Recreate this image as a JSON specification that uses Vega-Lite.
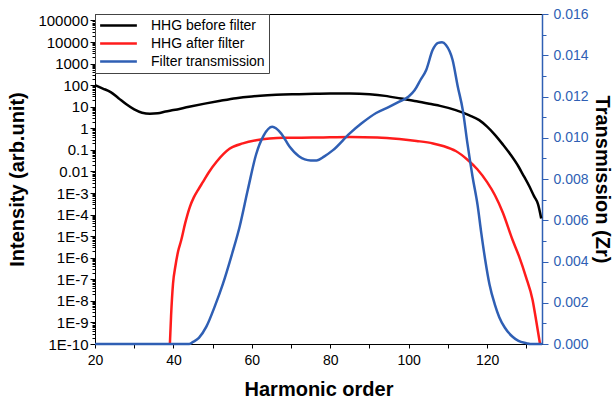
{
  "$schema": "https://vega.github.io/schema/vega-lite/v6.json",
  "width": 447,
  "height": 330,
  "autosize": "none",
  "padding": {"left": 95, "top": 14, "right": 71, "bottom": 62},
  "background": "white",
  "config": {
    "font": "Liberation Sans",
    "view": {"stroke": "black", "strokeWidth": 1},
    "axis": {"grid": false, "labelFont": "Liberation Sans", "titleFont": "Liberation Sans", "labelOverlap": false, "labelBound": false, "labelFlush": false},
    "legend": {
      "orient": "top-left", "offset": 0, "padding": 4,
      "strokeColor": "#444", "fillColor": "white",
      "labelFont": "Liberation Sans", "labelFontSize": 14, "labelColor": "black",
      "symbolType": "M-3,0H3", "symbolSize": 150, "symbolStrokeWidth": 2.5,
      "symbolOffset": 12, "labelOffset": 25, "rowPadding": 3
    }
  },
  "data": {"values": [
    {"series": "HHG before filter", "order": 20, "intensity": 100},
    {"series": "HHG before filter", "order": 22, "intensity": 70},
    {"series": "HHG before filter", "order": 24, "intensity": 48},
    {"series": "HHG before filter", "order": 26, "intensity": 25},
    {"series": "HHG before filter", "order": 28, "intensity": 13},
    {"series": "HHG before filter", "order": 30, "intensity": 7.5},
    {"series": "HHG before filter", "order": 32, "intensity": 5.3},
    {"series": "HHG before filter", "order": 34, "intensity": 4.8},
    {"series": "HHG before filter", "order": 36, "intensity": 5},
    {"series": "HHG before filter", "order": 38, "intensity": 6},
    {"series": "HHG before filter", "order": 40, "intensity": 7},
    {"series": "HHG before filter", "order": 44, "intensity": 10},
    {"series": "HHG before filter", "order": 48, "intensity": 14},
    {"series": "HHG before filter", "order": 52, "intensity": 19},
    {"series": "HHG before filter", "order": 56, "intensity": 25},
    {"series": "HHG before filter", "order": 60, "intensity": 30},
    {"series": "HHG before filter", "order": 64, "intensity": 34},
    {"series": "HHG before filter", "order": 68, "intensity": 37},
    {"series": "HHG before filter", "order": 72, "intensity": 38},
    {"series": "HHG before filter", "order": 76, "intensity": 40},
    {"series": "HHG before filter", "order": 80, "intensity": 41},
    {"series": "HHG before filter", "order": 85, "intensity": 41},
    {"series": "HHG before filter", "order": 90, "intensity": 38},
    {"series": "HHG before filter", "order": 94, "intensity": 32},
    {"series": "HHG before filter", "order": 98, "intensity": 24},
    {"series": "HHG before filter", "order": 102, "intensity": 18},
    {"series": "HHG before filter", "order": 106, "intensity": 13},
    {"series": "HHG before filter", "order": 108, "intensity": 11},
    {"series": "HHG before filter", "order": 112, "intensity": 7},
    {"series": "HHG before filter", "order": 115.5, "intensity": 4},
    {"series": "HHG before filter", "order": 118, "intensity": 2.4},
    {"series": "HHG before filter", "order": 120, "intensity": 1.2},
    {"series": "HHG before filter", "order": 122, "intensity": 0.5},
    {"series": "HHG before filter", "order": 124, "intensity": 0.18},
    {"series": "HHG before filter", "order": 126, "intensity": 0.06},
    {"series": "HHG before filter", "order": 128, "intensity": 0.017},
    {"series": "HHG before filter", "order": 129, "intensity": 0.008},
    {"series": "HHG before filter", "order": 130.8, "intensity": 0.002},
    {"series": "HHG before filter", "order": 132, "intensity": 0.0007},
    {"series": "HHG before filter", "order": 133, "intensity": 0.0003},
    {"series": "HHG before filter", "order": 133.8, "intensity": 0.000066},
    {"series": "HHG after filter", "order": 39.1, "intensity": 1e-10},
    {"series": "HHG after filter", "order": 39.4, "intensity": 2e-9},
    {"series": "HHG after filter", "order": 39.9, "intensity": 6.3e-8},
    {"series": "HHG after filter", "order": 40.5, "intensity": 4e-7},
    {"series": "HHG after filter", "order": 41.2, "intensity": 2e-6},
    {"series": "HHG after filter", "order": 42, "intensity": 6.6e-6},
    {"series": "HHG after filter", "order": 43, "intensity": 4e-5},
    {"series": "HHG after filter", "order": 44.2, "intensity": 2.3e-4},
    {"series": "HHG after filter", "order": 45.2, "intensity": 6.3e-4},
    {"series": "HHG after filter", "order": 46.3, "intensity": 1.4e-3},
    {"series": "HHG after filter", "order": 47.5, "intensity": 3.2e-3},
    {"series": "HHG after filter", "order": 49, "intensity": 0.009},
    {"series": "HHG after filter", "order": 51, "intensity": 0.028},
    {"series": "HHG after filter", "order": 54.3, "intensity": 0.112},
    {"series": "HHG after filter", "order": 57.7, "intensity": 0.2},
    {"series": "HHG after filter", "order": 61.1, "intensity": 0.28},
    {"series": "HHG after filter", "order": 64.5, "intensity": 0.34},
    {"series": "HHG after filter", "order": 68, "intensity": 0.37},
    {"series": "HHG after filter", "order": 72, "intensity": 0.37},
    {"series": "HHG after filter", "order": 77, "intensity": 0.38},
    {"series": "HHG after filter", "order": 85, "intensity": 0.40},
    {"series": "HHG after filter", "order": 92, "intensity": 0.38},
    {"series": "HHG after filter", "order": 97.6, "intensity": 0.32},
    {"series": "HHG after filter", "order": 102, "intensity": 0.26},
    {"series": "HHG after filter", "order": 106.2, "intensity": 0.2},
    {"series": "HHG after filter", "order": 109, "intensity": 0.148},
    {"series": "HHG after filter", "order": 112, "intensity": 0.089},
    {"series": "HHG after filter", "order": 115, "intensity": 0.035},
    {"series": "HHG after filter", "order": 117.5, "intensity": 0.0126},
    {"series": "HHG after filter", "order": 120, "intensity": 0.0032},
    {"series": "HHG after filter", "order": 122, "intensity": 7.9e-4},
    {"series": "HHG after filter", "order": 124, "intensity": 1.26e-4},
    {"series": "HHG after filter", "order": 126.5, "intensity": 6.6e-6},
    {"series": "HHG after filter", "order": 128.2, "intensity": 1.1e-6},
    {"series": "HHG after filter", "order": 129.9, "intensity": 1.3e-7},
    {"series": "HHG after filter", "order": 131.6, "intensity": 1.1e-8},
    {"series": "HHG after filter", "order": 132.5, "intensity": 1.26e-9},
    {"series": "HHG after filter", "order": 133.5, "intensity": 1e-10},
    {"series": "Filter transmission", "order": 20, "transmission": 0},
    {"series": "Filter transmission", "order": 44, "transmission": 0},
    {"series": "Filter transmission", "order": 45, "transmission": 0.0001},
    {"series": "Filter transmission", "order": 46.5, "transmission": 0.0003},
    {"series": "Filter transmission", "order": 48.4, "transmission": 0.00084},
    {"series": "Filter transmission", "order": 50.5, "transmission": 0.0018},
    {"series": "Filter transmission", "order": 52.6, "transmission": 0.0029},
    {"series": "Filter transmission", "order": 55, "transmission": 0.0044},
    {"series": "Filter transmission", "order": 56.9, "transmission": 0.0057},
    {"series": "Filter transmission", "order": 59, "transmission": 0.0075},
    {"series": "Filter transmission", "order": 61.1, "transmission": 0.0092},
    {"series": "Filter transmission", "order": 63, "transmission": 0.0101},
    {"series": "Filter transmission", "order": 65.2, "transmission": 0.01053},
    {"series": "Filter transmission", "order": 67.5, "transmission": 0.0102},
    {"series": "Filter transmission", "order": 69.6, "transmission": 0.00957},
    {"series": "Filter transmission", "order": 72, "transmission": 0.0091},
    {"series": "Filter transmission", "order": 75, "transmission": 0.0089},
    {"series": "Filter transmission", "order": 76.5, "transmission": 0.0089},
    {"series": "Filter transmission", "order": 78.5, "transmission": 0.0091},
    {"series": "Filter transmission", "order": 80.7, "transmission": 0.0094},
    {"series": "Filter transmission", "order": 84.9, "transmission": 0.0102},
    {"series": "Filter transmission", "order": 88, "transmission": 0.0107},
    {"series": "Filter transmission", "order": 91.7, "transmission": 0.0112},
    {"series": "Filter transmission", "order": 95, "transmission": 0.0115},
    {"series": "Filter transmission", "order": 97.6, "transmission": 0.01175},
    {"series": "Filter transmission", "order": 100, "transmission": 0.012},
    {"series": "Filter transmission", "order": 101.5, "transmission": 0.0123},
    {"series": "Filter transmission", "order": 103, "transmission": 0.0128},
    {"series": "Filter transmission", "order": 104.5, "transmission": 0.0133},
    {"series": "Filter transmission", "order": 106.1, "transmission": 0.01425},
    {"series": "Filter transmission", "order": 107.5, "transmission": 0.0146},
    {"series": "Filter transmission", "order": 108.5, "transmission": 0.01463},
    {"series": "Filter transmission", "order": 109.5, "transmission": 0.0145},
    {"series": "Filter transmission", "order": 111.2, "transmission": 0.01377},
    {"series": "Filter transmission", "order": 112.5, "transmission": 0.0125},
    {"series": "Filter transmission", "order": 113.8, "transmission": 0.01134},
    {"series": "Filter transmission", "order": 115, "transmission": 0.0097},
    {"series": "Filter transmission", "order": 116.3, "transmission": 0.0081},
    {"series": "Filter transmission", "order": 117.6, "transmission": 0.0067},
    {"series": "Filter transmission", "order": 118.5, "transmission": 0.0054},
    {"series": "Filter transmission", "order": 119.5, "transmission": 0.0041},
    {"series": "Filter transmission", "order": 120.6, "transmission": 0.0029},
    {"series": "Filter transmission", "order": 122, "transmission": 0.0019},
    {"series": "Filter transmission", "order": 123.1, "transmission": 0.0013},
    {"series": "Filter transmission", "order": 124.5, "transmission": 0.0008},
    {"series": "Filter transmission", "order": 126.5, "transmission": 0.00035},
    {"series": "Filter transmission", "order": 128, "transmission": 0.00015},
    {"series": "Filter transmission", "order": 130, "transmission": 0.00004},
    {"series": "Filter transmission", "order": 131, "transmission": 0},
    {"series": "Filter transmission", "order": 134, "transmission": 0}
  ]},
  "encoding": {
    "x": {
      "field": "order", "type": "quantitative",
      "scale": {"domain": [20, 134], "nice": false, "zero": false},
      "axis": {
        "title": "Harmonic order", "titleFontSize": 20, "titleFontWeight": "bold", "titleColor": "black", "titlePadding": 12,
        "values": [20, 30, 40, 50, 60, 70, 80, 90, 100, 110, 120, 130],
        "labelExpr": "datum.value % 20 == 0 ? datum.label : ''",
        "labelFontSize": 14, "labelColor": "black", "labelPadding": 5,
        "tickSize": 4, "tickColor": "black", "domainColor": "black", "tickWidth": 1
      }
    },
    "color": {
      "field": "series", "type": "nominal",
      "scale": {"domain": ["HHG before filter", "HHG after filter", "Filter transmission"], "range": ["black", "#ff1c1c", "#2f5fb4"]},
      "legend": {"title": null}
    }
  },
  "layer": [
    {
      "transform": [{"filter": "datum.series !== 'Filter transmission'"}],
      "mark": {"type": "line", "strokeWidth": 2.5, "interpolate": "monotone"},
      "encoding": {
        "y": {
          "field": "intensity", "type": "quantitative",
          "scale": {"type": "log", "domain": [1e-10, 200000], "nice": false},
          "axis": {
            "orient": "left",
            "title": "Intensity (arb.unit)", "titleFontSize": 20, "titleFontWeight": "bold", "titleColor": "black", "titlePadding": 10,
            "values": [1e-10,2e-10,3e-10,4e-10,5e-10,6e-10,7e-10,8e-10,9e-10,
                       1e-9,2e-9,3e-9,4e-9,5e-9,6e-9,7e-9,8e-9,9e-9,
                       1e-8,2e-8,3e-8,4e-8,5e-8,6e-8,7e-8,8e-8,9e-8,
                       1e-7,2e-7,3e-7,4e-7,5e-7,6e-7,7e-7,8e-7,9e-7,
                       1e-6,2e-6,3e-6,4e-6,5e-6,6e-6,7e-6,8e-6,9e-6,
                       1e-5,2e-5,3e-5,4e-5,5e-5,6e-5,7e-5,8e-5,9e-5,
                       1e-4,2e-4,3e-4,4e-4,5e-4,6e-4,7e-4,8e-4,9e-4,
                       1e-3,2e-3,3e-3,4e-3,5e-3,6e-3,7e-3,8e-3,9e-3,
                       0.01,0.02,0.03,0.04,0.05,0.06,0.07,0.08,0.09,
                       0.1,0.2,0.3,0.4,0.5,0.6,0.7,0.8,0.9,
                       1,2,3,4,5,6,7,8,9,
                       10,20,30,40,50,60,70,80,90,
                       100,200,300,400,500,600,700,800,900,
                       1000,2000,3000,4000,5000,6000,7000,8000,9000,
                       10000,20000,30000,40000,50000,60000,70000,80000,90000,
                       100000],
            "labelExpr": "abs(log(datum.value)/LN10 - round(log(datum.value)/LN10)) > 0.001 ? '' : (datum.value >= 0.01 ? format(datum.value, '~g') : '1E' + round(log(datum.value)/LN10))",
            "labelFontSize": 15, "labelColor": "black", "labelPadding": 2,
            "tickSize": {"condition": {"test": "abs(log(datum.value)/LN10 - round(log(datum.value)/LN10)) > 0.001", "value": 3}, "value": 5},
            "tickColor": "black", "domainColor": "black"
          }
        }
      }
    },
    {
      "transform": [{"filter": "datum.series === 'Filter transmission'"}],
      "mark": {"type": "line", "strokeWidth": 2.5, "interpolate": "monotone"},
      "encoding": {
        "y": {
          "field": "transmission", "type": "quantitative",
          "scale": {"domain": [0, 0.016], "nice": false},
          "axis": {
            "orient": "right",
            "title": "Transmission (Zr)", "titleFontSize": 20, "titleFontWeight": "bold", "titleColor": "black", "titlePadding": 3,
            "values": [0,0.001,0.002,0.003,0.004,0.005,0.006,0.007,0.008,0.009,0.01,0.011,0.012,0.013,0.014,0.015,0.016],
            "labelExpr": "round(datum.value*1000) % 2 == 1 ? '' : format(datum.value, '.3f')",
            "labelFontSize": 14, "labelColor": "#2f5fb4", "labelPadding": 5,
            "tickSize": {"condition": {"test": "round(datum.value*1000) % 2 == 1", "value": 4}, "value": 6},
            "tickColor": "#2f5fb4", "domainColor": "#2f5fb4", "domainWidth": 1.5
          }
        }
      }
    }
  ],
  "resolve": {"scale": {"y": "independent"}}
}
